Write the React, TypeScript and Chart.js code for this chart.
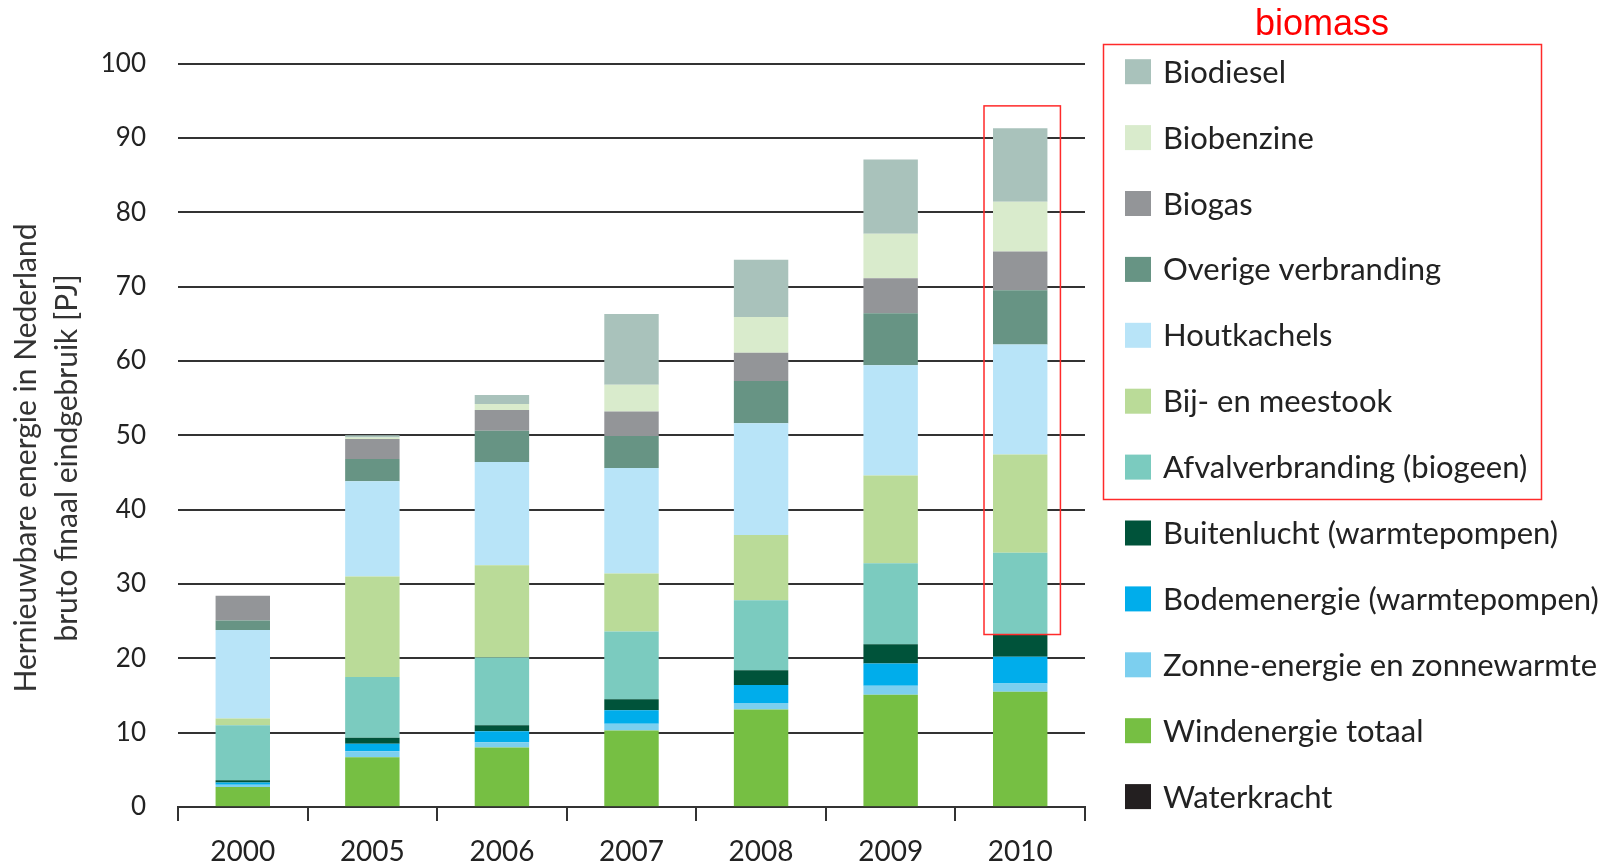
import React, { useEffect, useRef } from "react";
import { Chart, registerables } from "chart.js";

Chart.register(...registerables);

const years = ["2000", "2005", "2006", "2007", "2008", "2009", "2010"];

// stacked bottom -> top
const waterkracht = [0.1, 0.1, 0.1, 0.1, 0.1, 0.1, 0.1];
const windenergie = [2.6, 6.6, 7.9, 10.2, 13.0, 15.0, 15.4];
const zonne = [0.3, 0.8, 0.7, 0.9, 0.9, 1.2, 1.1];
const bodemenergie = [0.3, 1.0, 1.5, 1.8, 2.4, 3.0, 3.6];
const buitenlucht = [0.3, 0.8, 0.8, 1.5, 2.0, 2.6, 3.0];
const afvalverbranding = [7.4, 8.2, 9.1, 9.1, 9.4, 10.9, 11.0];
const bijmeestook = [0.9, 13.5, 12.4, 7.8, 8.8, 11.8, 13.2];
const houtkachels = [11.9, 12.8, 13.9, 14.2, 15.0, 14.8, 14.8];
const overige = [1.3, 3.0, 4.2, 4.3, 5.7, 7.0, 7.3];
const biogas = [3.3, 2.7, 2.8, 3.3, 3.8, 4.7, 5.2];
const biobenzine = [0, 0.2, 0.8, 3.6, 4.8, 6.0, 6.7];
const biodiesel = [0, 0.3, 1.2, 9.5, 7.7, 10.0, 9.9];

const seriesNames = [
  "Waterkracht",
  "Windenergie totaal",
  "Zonne-energie en zonnewarmte",
  "Bodemenergie (warmtepompen)",
  "Buitenlucht (warmtepompen)",
  "Afvalverbranding (biogeen)",
  "Bij- en meestook",
  "Houtkachels",
  "Overige verbranding",
  "Biogas",
  "Biobenzine",
  "Biodiesel",
];
const seriesData = [
  waterkracht, windenergie, zonne, bodemenergie, buitenlucht, afvalverbranding,
  bijmeestook, houtkachels, overige, biogas, biobenzine, biodiesel,
];
const seriesColors = [
  "#231f20", "#76bf43", "#7ccfef", "#00adeb", "#00533a", "#7bcbbf",
  "#badb98", "#b8e4f8", "#679484", "#939598", "#d9ebcc", "#a9c2bb",
];
const biomassStart = 5; // index of first biomass series
const yTicks = [0, 10, 20, 30, 40, 50, 60, 70, 80, 90, 100];
const yTitle = ["Hernieuwbare energie in Nederland", "bruto finaal eindgebruik [PJ]"];
const annotationLabel = "biomass";
const highlightIndex = 6;

const FONT = "Lato, 'Open Sans', sans-serif";

const overlayPlugin = {
  id: "overlay",
  afterDraw(chart: any) {
    const ctx = chart.ctx;
    const xs = chart.scales.x;
    const ys = chart.scales.y;
    ctx.save();
    // y-axis title
    ctx.fillStyle = "#333";
    ctx.font = `30px ${FONT}`;
    ctx.textAlign = "center";
    ctx.textBaseline = "middle";
    const cy = 458;
    [26, 67].forEach((x, i) => {
      ctx.save();
      ctx.translate(x, cy);
      ctx.rotate(-Math.PI / 2);
      ctx.fillText(yTitle[i], 0, 0);
      ctx.restore();
    });

    // legend (top = last series)
    const n = seriesNames.length;
    ctx.textAlign = "left";
    ctx.font = `31px ${FONT}`;
    for (let k = 0; k < n; k++) {
      const idx = n - 1 - k;
      const y = 71.7 + k * 65.9;
      ctx.fillStyle = seriesColors[idx];
      ctx.fillRect(1125, y - 12.5, 26, 25);
      ctx.fillStyle = "#222";
      ctx.fillText(seriesNames[idx], 1163, y + 1);
    }

    // biomass annotation box around legend
    ctx.strokeStyle = "#ff2a2a";
    ctx.lineWidth = 1.5;
    ctx.strokeRect(1103.5, 44.5, 438, 455);
    ctx.fillStyle = "#ff0000";
    ctx.font = "36px 'Liberation Sans', Arial, sans-serif";
    ctx.textAlign = "center";
    ctx.textBaseline = "alphabetic";
    ctx.fillText(annotationLabel, 1322, 35);

    // box around the biomass part of the highlighted bar
    let base = 0;
    let total = 0;
    seriesData.forEach((arr, i) => {
      total += arr[highlightIndex];
      if (i < biomassStart) base += arr[highlightIndex];
    });
    const bar = chart.getDatasetMeta(0).data[highlightIndex];
    const cx = xs.getPixelForValue(highlightIndex);
    const half = bar.width / 2 + 11;
    const yTop = ys.getPixelForValue(total + 3);
    const yBot = ys.getPixelForValue(base);
    ctx.strokeRect(cx - half + 2, yTop, half * 2, yBot - yTop);
    ctx.restore();
  },
};

export default function App() {
  const ref = useRef<HTMLCanvasElement>(null);
  useEffect(() => {
    document.body.style.margin = "0";
    const chart = new Chart(ref.current!, {
      type: "bar",
      data: {
        labels: years,
        datasets: seriesData.map((d, i) => ({
          label: seriesNames[i],
          data: d,
          backgroundColor: seriesColors[i],
          borderWidth: 0,
          barPercentage: 0.42,
          categoryPercentage: 1,
        })),
      },
      options: {
        animation: false,
        responsive: false,
        devicePixelRatio: 1,
        layout: { padding: { left: 0, right: 521, top: 63.5, bottom: 0 } },
        plugins: { legend: { display: false }, tooltip: { enabled: false } },
        scales: {
          x: {
            stacked: true,
            offset: true,
            grid: {
              display: true,
              drawOnChartArea: false,
              drawTicks: true,
              tickLength: 14,
              color: "#333",
              lineWidth: 2,
              offset: true,
            },
            border: { display: true, color: "#333", width: 2 },
            ticks: { font: { family: FONT, size: 28 }, color: "#222", padding: 14 },
            afterFit: (s: any) => { s.height = 60; },
          },
          y: {
            stacked: true,
            min: 0,
            max: 100,
            afterBuildTicks: (s: any) => { s.ticks = yTicks.map((v) => ({ value: v })); },
            ticks: { font: { family: FONT, size: 26 }, color: "#222", padding: 32 },
            grid: { color: "#333", lineWidth: 2, drawTicks: false },
            border: { display: false },
            afterFit: (s: any) => { s.width = 178; },
          },
        },
      },
      plugins: [overlayPlugin],
    });
    return () => chart.destroy();
  }, []);
  return (
    <div style={{ width: 1606, height: 867, background: "#fff" }}>
      <canvas ref={ref} width={1606} height={867} style={{ display: "block" }} />
    </div>
  );
}
